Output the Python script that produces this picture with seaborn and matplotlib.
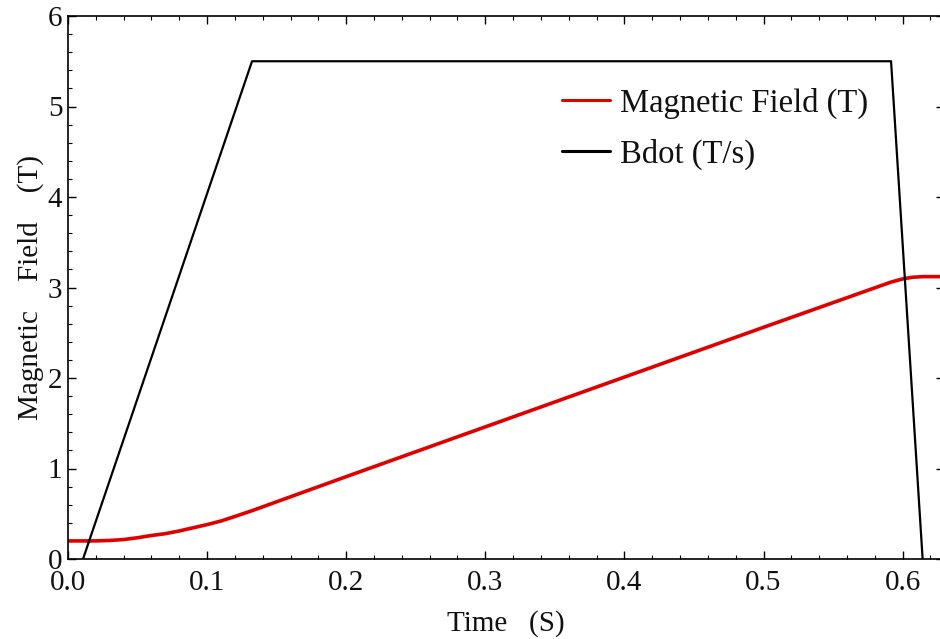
import matplotlib
matplotlib.use("Agg")
import matplotlib.pyplot as plt
import seaborn as sns
import pandas as pd
from matplotlib.ticker import MultipleLocator

# Data
time_field = [0.0, 0.02, 0.03, 0.04, 0.05, 0.06, 0.07, 0.08, 0.09, 0.10, 0.11, 0.12,
              0.1323, 0.2, 0.3, 0.4, 0.5, 0.5917, 0.600, 0.607, 0.6144, 0.635]
field_T = [0.20, 0.20, 0.205, 0.215, 0.235, 0.26, 0.28, 0.31, 0.345, 0.38, 0.42, 0.47,
           0.534, 0.91, 1.46, 2.01, 2.56, 3.06, 3.095, 3.113, 3.12, 3.12]

time_bdot = [0.0108, 0.1323, 0.5917, 0.6144]
bdot_Ts = [0.0, 5.5, 5.5, 0.0]

x_ticks = [0.0, 0.1, 0.2, 0.3, 0.4, 0.5, 0.6]
y_ticks = [0, 1, 2, 3, 4, 5, 6]

df_field = pd.DataFrame({"t": time_field, "v": field_T})
df_bdot = pd.DataFrame({"t": time_bdot, "v": bdot_Ts})

sns.set_theme(style="ticks")
plt.rcParams["font.family"] = ["Liberation Serif", "DejaVu Serif"]

fig = plt.figure(figsize=(9.4, 6.39), dpi=100)
L, R, T, B = 68, 944, 16, 559
ax = fig.add_axes([L / 940, (639 - B) / 639, (R - L) / 940, (B - T) / 639])

sns.lineplot(data=df_field, x="t", y="v", ax=ax, color="#e00000", linewidth=2.6,
             label="Magnetic Field (T)", estimator=None, sort=False)
sns.lineplot(data=df_bdot, x="t", y="v", ax=ax, color="black", linewidth=1.6,
             label="Bdot (T/s)", estimator=None, sort=False)

ax.set_xlim(0, (R - L) / 1391.0)
ax.set_ylim(0, 6)
ax.set_xticks(x_ticks)
ax.set_xticklabels([f"{v:.1f}" for v in x_ticks])
ax.set_yticks(y_ticks)
ax.set_yticklabels([str(v) for v in y_ticks])
ax.xaxis.set_minor_locator(MultipleLocator(0.02))
ax.yaxis.set_minor_locator(MultipleLocator(0.2))

ax.tick_params(which="both", direction="in", top=True, right=True, color="black")
ax.tick_params(which="major", length=6, width=1.0, labelsize=21, labelcolor="#111111")
ax.tick_params(axis="x", which="major", pad=8)
ax.tick_params(axis="y", which="major", pad=4)
ax.tick_params(which="minor", length=3, width=0.8)
for s in ax.spines.values():
    s.set_color("black")
    s.set_linewidth(1.2)

ax.set_xlabel("Time   (S)", fontsize=21, labelpad=10, color="#111111")
ax.set_ylabel("Magnetic    Field    (T)", fontsize=21, labelpad=3, color="#111111")

leg = ax.legend(loc="upper left", bbox_to_anchor=(0.564, 0.868), frameon=False,
                fontsize=23.5, handlelength=1.47, handletextpad=0.31, labelspacing=0.6,
                borderaxespad=0, borderpad=0)
for h in leg.get_lines():
    h.set_linewidth(2.2)
for t in leg.get_texts():
    t.set_color("#111111")

fig.savefig("out.png", dpi=100)
